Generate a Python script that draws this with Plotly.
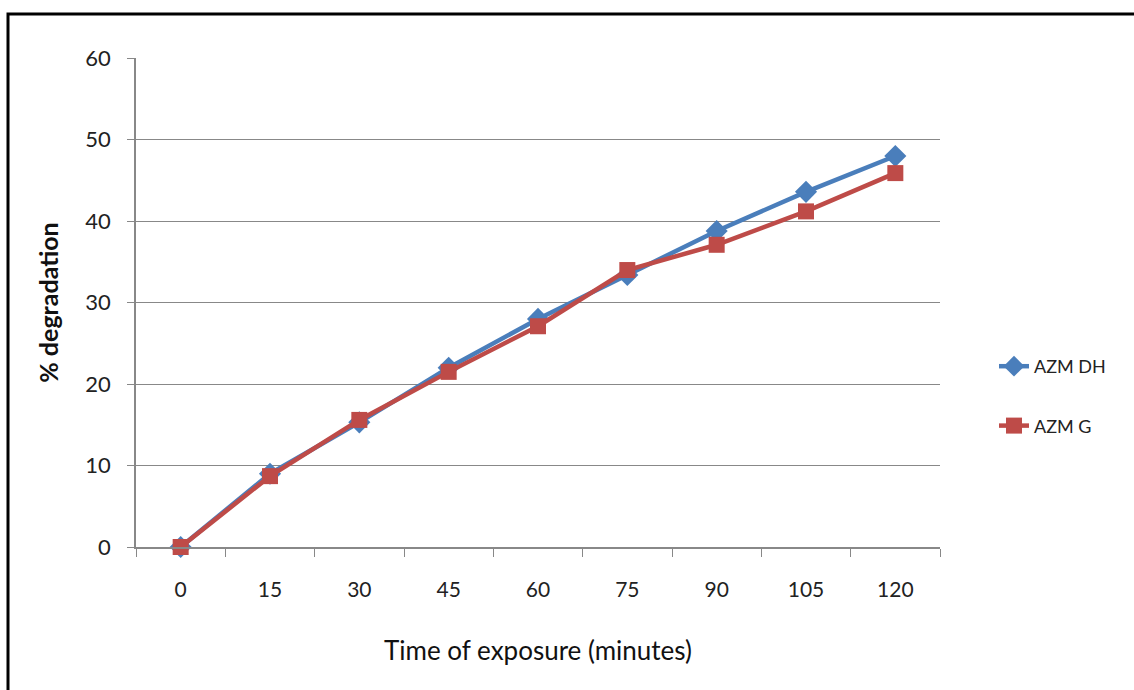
import plotly.graph_objects as go

time_labels = ["0", "15", "30", "45", "60", "75", "90", "105", "120"]
azm_dh = [0, 9.0, 15.3, 22.0, 28.0, 33.4, 38.8, 43.6, 48.0]
azm_g = [0, 8.7, 15.6, 21.5, 27.1, 34.0, 37.1, 41.2, 45.9]
y_ticks = [0, 10, 20, 30, 40, 50, 60]

W, H = 1134, 690
L, R, T, B = 136, 194, 58, 143
pw = W - L - R
ph = H - T - B

FONT = "Lato, 'Open Sans', sans-serif"

fig = go.Figure()
fig.add_trace(go.Scatter(
    x=time_labels, y=azm_dh, name="AZM DH", mode="lines+markers",
    line=dict(color="#4A7EBB", width=4.5),
    marker=dict(symbol="diamond", size=17, color="#4A7EBB"),
    legendgroup="a", cliponaxis=False,
))
fig.add_trace(go.Scatter(
    x=time_labels, y=azm_g, name="AZM G", mode="lines+markers",
    line=dict(color="#BE4B48", width=4.5),
    marker=dict(symbol="square", size=16, color="#BE4B48"),
    legendgroup="b", cliponaxis=False,
))

# outer frame (right/bottom edges fall outside the picture)
fig.add_shape(
    type="rect", xref="paper", yref="paper",
    x0=(8 - L) / pw, x1=(1140 - L) / pw,
    y0=(H - 696 - B) / ph, y1=(H - 14 - B) / ph,
    line=dict(color="black", width=3), fillcolor="rgba(0,0,0,0)",
    layer="above",
)

fig.update_layout(
    width=W, height=H,
    margin=dict(l=L, r=R, t=T, b=B, pad=0),
    paper_bgcolor="white", plot_bgcolor="white",
    font=dict(family=FONT, size=20, color="#222"),
    showlegend=True,
    legend=dict(
        x=(994 - L) / pw, y=(H - 348 - B) / ph, xanchor="left", yanchor="top",
        font=dict(size=18, color="#222"), tracegroupgap=33,
        bgcolor="rgba(0,0,0,0)",
    ),
    xaxis=dict(
        type="category", range=[-0.5, 8.5],
        tickson="boundaries", ticks="outside", ticklen=8, tickcolor="#888",
        showline=True, linecolor="#888", linewidth=1.5,
        showgrid=False, zeroline=False,
        tickfont=dict(size=21, color="#222"),
        ticklabelstandoff=23,
        title=dict(text="Time of exposure (minutes)", font=dict(size=26, color="#111"), standoff=42),
    ),
    yaxis=dict(
        range=[0, 60.03], tickvals=y_ticks,
        ticks="outside", ticklen=7, tickcolor="#888",
        showline=True, linecolor="#888", linewidth=1.5,
        showgrid=True, gridcolor="#888", gridwidth=1.2,
        zeroline=False,
        tickfont=dict(size=22, color="#222"),
        ticklabelstandoff=12,
        title=dict(text="<b>% degradation</b>", font=dict(size=25, color="#111"), standoff=20),
    ),
)

fig.write_html("out.html")
